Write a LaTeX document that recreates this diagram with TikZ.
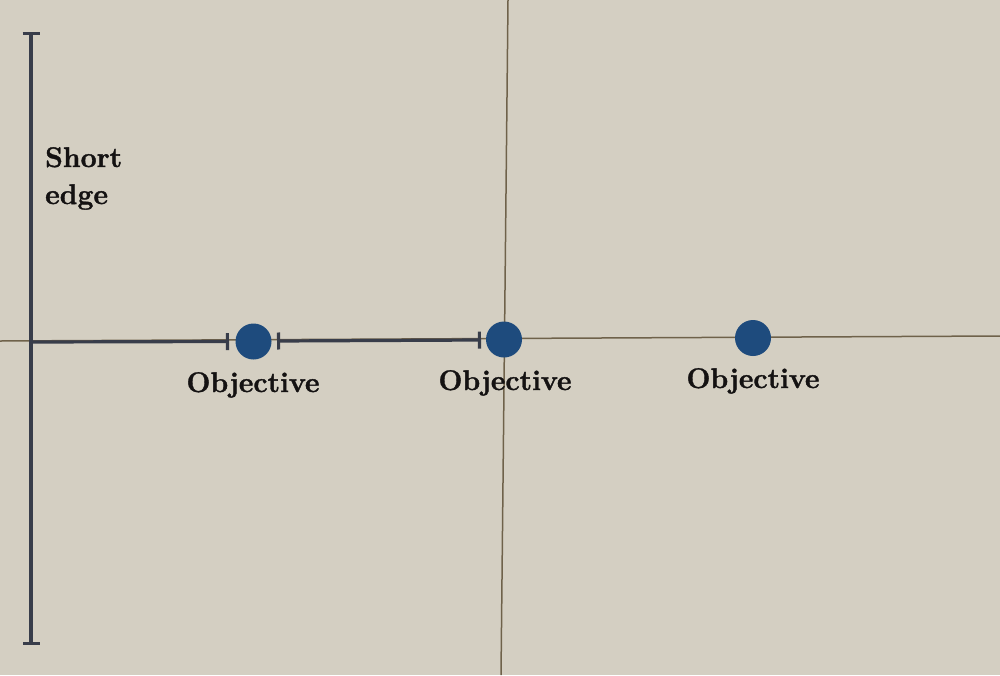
\documentclass[tikz,border=0pt]{standalone}
\usepackage{fontspec}
\newfontfamily\lblfont{Latin Modern Roman}[BoldFeatures={FakeBold=1.3}]
\usetikzlibrary{arrows.meta}
\definecolor{paper}{HTML}{D4CFC2}
\definecolor{barcol}{HTML}{383D4A}
\definecolor{dotcol}{HTML}{1E4B7D}
\definecolor{crease}{HTML}{5E5036}
\definecolor{inkcol}{HTML}{141212}
\tikzset{
  bar/.style={draw=barcol, line width=3.2pt},
  capped/.style={bar, {Bar[width=17pt]}-{Bar[width=17pt]}},
  endcap/.style={bar, -{Bar[width=17pt]}},
  crease line/.style={draw=crease, line width=1.5pt, opacity=0.85},
  dot/.style={circle, fill=dotcol, minimum size=36pt, inner sep=0pt},
  lbl/.style={text=inkcol, font=\lblfont\fontsize{28.4}{34}\selectfont\bfseries, inner sep=0pt, anchor=base},
}
\begin{document}
\begin{tikzpicture}[x=1pt, y=-1pt]
\useasboundingbox (0,0) rectangle (1000,675);
\fill[paper] (0,0) rectangle (1000,675);
% creases of the paper
\coordinate (hl) at (0,341);
\coordinate (hr) at (1000,336);
\coordinate (vt) at (508,0);
\coordinate (vb) at (501,675);
\draw[crease line] (hl) -- (hr);
\draw[crease line] (vt) -- (vb);
% vertical short-edge bar
\coordinate (vtop) at (31,32);
\coordinate (vbot) at (31,645);
\draw[capped] (vtop) -- (vbot);
% objectives
\node[dot] (c1) at (253.5,341.5) {};
\node[dot] (c2) at (504,339.5) {};
\node[dot] (c3) at (753,338) {};
% measuring line
\coordinate (origin) at (31,342);
\coordinate (t1) at (229,341.5);
\coordinate (t2) at (277,341);
\coordinate (t3) at (481,340);
\draw[endcap] (origin) -- (t1);
\draw[capped] (t2) -- (t3);
% labels
\node[lbl, anchor=base west] (s1) at (45,167) {Short};
\node[lbl, anchor=base west] (s2) at (45,204) {edge};
\node[lbl] (o1) at (253,392) {Objective};
\node[lbl] (o2) at (505,390) {Objective};
\node[lbl] (o3) at (753,388) {Objective};
\end{tikzpicture}
\end{document}
